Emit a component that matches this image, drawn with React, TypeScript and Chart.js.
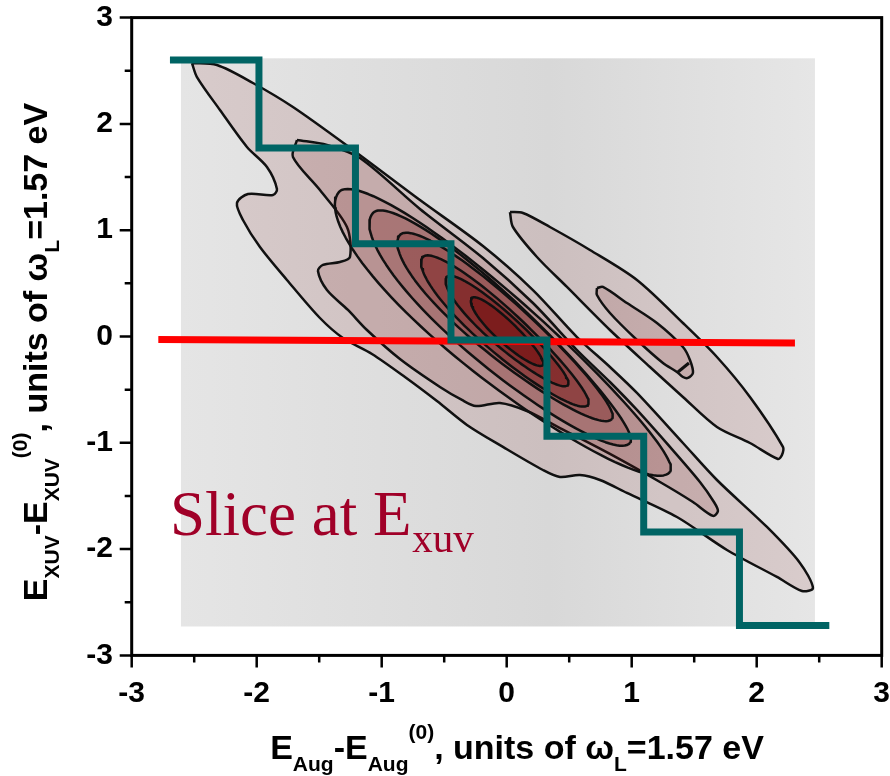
import React, { useEffect, useRef } from 'react';
import { Chart, registerables } from 'chart.js';

Chart.register(...registerables);

// ---------- axes ----------
const X_TICKS = [-3, -2, -1, 0, 1, 2, 3];
const Y_TICKS = [-3, -2, -1, 0, 1, 2, 3];
const X_MINOR = [-2.5, -1.5, -0.5, 0.5, 1.5, 2.5];
const Y_MINOR = [-2.5, -1.5, -0.5, 0.5, 1.5, 2.5];

// ---------- grey map panel (data extents) ----------
const PANEL_X = [-2.606, 2.466];
const PANEL_Y = [-2.728, 2.617];

// ---------- stepped (teal) line ----------
const STEP_X = [-2.694, -1.982, -1.21, -0.446, 0.322, 1.096, 1.862, 2.581];
const STEP_Y = [2.601, 1.773, 0.873, -0.033, -0.939, -1.839, -2.719];

// ---------- slice (red) line ----------
const SLICE_X = [-2.787, 2.306];
const SLICE_Y = [-0.028, -0.061];

// ---------- slice label ----------
const SLICE_TEXT = 'Slice at E';
const SLICE_SUB = 'xuv';
const SLICE_POS = [-2.694, -1.867];

// ---------- main peak: outermost contour ----------
const L1_X = [-2.518, -2.318, -2.03, -1.71, -1.23, -0.694, -0.19, 0.21, 0.562, 0.826, 1.042, 1.41, 1.682, 2.082, 2.346, 2.45,
  2.362, 2.162, 1.762, 1.362, 0.962, 0.746, 0.586, 0.426, 0.29, -0.03, -0.318, -0.558, -0.814, -1.078, -1.31, -1.494,
  -1.758, -1.974, -2.11, -2.158, -2.07, -1.87, -1.838, -1.918, -2.078, -2.294, -2.478];
const L1_Y = [2.573, 2.554, 2.385, 2.159, 1.755, 1.284, 0.851, 0.437, -0.005, -0.287, -0.531, -1.002, -1.35, -1.792, -2.13, -2.366,
  -2.394, -2.262, -2.008, -1.698, -1.472, -1.35, -1.303, -1.322, -1.256, -1.039, -0.832, -0.607, -0.381, -0.164, -0.014, 0.174,
  0.532, 0.842, 1.096, 1.256, 1.341, 1.331, 1.388, 1.595, 1.783, 2.131, 2.441];

// ---------- main peak: second contour ----------
const L2_X = [-1.678, -1.438, -1.174, -0.694, -0.19, 0.21, 0.562, 0.826, 1.042, 1.306, 1.546, 1.658, 1.69, 1.65, 1.49, 1.226,
  0.826, 0.426, 0.162, -0.054, -0.246, -0.358, -0.534, -0.854, -1.118, -1.27, -1.438, -1.51, -1.47, -1.334, -1.254, -1.278,
  -1.494, -1.71];
const L2_Y = [1.849, 1.802, 1.679, 1.2, 0.739, 0.315, -0.127, -0.428, -0.691, -1.039, -1.369, -1.557, -1.641, -1.688, -1.557, -1.369,
  -1.105, -0.861, -0.701, -0.625, -0.654, -0.597, -0.475, -0.212, 0.061, 0.25, 0.437, 0.616, 0.673, 0.701, 0.748, 1.03,
  1.378, 1.689];

// ---------- main peak: inner contours (tips and half widths, x-units) ----------
const CORE_TIP_A_X = [-1.342, -1.07, -0.854, -0.67, -0.478, -0.278];
const CORE_TIP_A_Y = [1.359, 1.162, 0.955, 0.748, 0.56, 0.362];
const CORE_TIP_B_X = [1.306, 0.986, 0.842, 0.65, 0.49, 0.29];
const CORE_TIP_B_Y = [-1.275, -1.002, -0.776, -0.644, -0.456, -0.268];
const CORE_W_UP = [0.27, 0.23, 0.19, 0.15, 0.11, 0.075];
const CORE_W_LOW = [0.4, 0.32, 0.25, 0.19, 0.14, 0.095];
const CORE_SKEW = [0.15, 0.15, 0.15, 0.12, 0.1, 0.08];

// ---------- side peak ----------
const SIDE1_X = [0.026, 0.13, 0.346, 0.666, 1.042, 1.41, 1.682, 1.946, 2.21, 2.202, 2.17, 1.946, 1.682, 1.41, 1.146, 0.826, 0.482, 0.242, 0.05];
const SIDE1_Y = [1.171, 1.162, 1.03, 0.814, 0.532, 0.127, -0.193, -0.569, -1.039, -1.115, -1.152, -1.002, -0.851, -0.569, -0.287, 0.061, 0.466, 0.748, 1.03];
const SIDE2_X = [0.722, 0.77, 0.962, 1.202, 1.41, 1.466, 1.49, 1.45, 1.41, 1.362, 1.25, 1.042, 0.826, 0.722];
const SIDE2_Y = [0.456, 0.466, 0.315, 0.127, -0.099, -0.221, -0.343, -0.39, -0.381, -0.334, -0.249, -0.033, 0.221, 0.39];
const SIDE3_X = [1.37, 1.458];
const SIDE3_Y = [-0.334, -0.249];

// ---------- styles ----------
const LEVEL_ALPHA = [0.12, 0.14, 0.16, 0.22, 0.26, 0.33, 0.44, 0.66];
const FILL_RGB = '120,20,20';
const TEAL = '#006464';
const RED = '#ff0000';
const LABEL_COLOR = 'rgb(160,0,40)';
const SANS = '"Liberation Sans", Arial, Helvetica, sans-serif';
const SERIF = '"Liberation Serif", "Times New Roman", Times, serif';
const ASPECT = 106.3 / 125; // on-screen length of a y unit relative to an x unit

const X_TITLE: [string, string][] = [
  ['E', 'n'], ['Aug', 'sub'], ['-E', 'n'], ['Aug', 'sub'], ['(0)', 'sup'], [', units of ω', 'n'], ['L', 'sub'], ['=1.57 eV', 'n'],
];
const Y_TITLE: [string, string][] = [
  ['E', 'n'], ['XUV', 'sub'], ['-E', 'n'], ['XUV', 'sub'], ['(0)', 'sup'], [', units of ω', 'n'], ['L', 'sub'], ['=1.57 eV', 'n'],
];

function poly(xs: number[], ys: number[]) {
  const pts = xs.map((x, i) => ({ x, y: ys[i] }));
  pts.push({ x: xs[0], y: ys[0] });
  return pts;
}

function lens(i: number) {
  const ax = CORE_TIP_A_X[i], ay = CORE_TIP_A_Y[i], bx = CORE_TIP_B_X[i], by = CORE_TIP_B_Y[i];
  const cx = (ax + bx) / 2, cy = (ay + by) / 2;
  const hx = (bx - ax) / 2, hy = ((by - ay) / 2) * ASPECT;
  const L = Math.hypot(hx, hy);
  const nx = -hy / L, ny = hx / L;
  const pts: { x: number; y: number }[] = [];
  const N = 120;
  for (let k = 0; k <= N; k++) {
    const t = (2 * Math.PI * k) / N;
    const c = Math.cos(t), s = Math.sin(t);
    const w = (s >= 0 ? CORE_W_UP[i] : CORE_W_LOW[i]) * (1 - CORE_SKEW[i] * c);
    const px = c * hx + s * w * nx;
    const py = c * hy + s * w * ny;
    pts.push({ x: cx + px, y: cy + py / ASPECT });
  }
  return pts;
}

function contourSet(data: { x: number; y: number }[], alpha: number, order: number, tension: number) {
  return {
    data,
    showLine: true,
    fill: 'shape',
    backgroundColor: `rgba(${FILL_RGB},${alpha})`,
    borderColor: '#111',
    borderWidth: 2.5,
    borderJoinStyle: 'round',
    pointRadius: 0,
    pointHoverRadius: 0,
    tension,
    order,
  };
}

function drawRich(ctx: CanvasRenderingContext2D, segs: [string, string][], cx: number, base: number) {
  const big = `bold 34px ${SANS}`;
  const small = `bold 21px ${SANS}`;
  let total = 0;
  const widths = segs.map(([t, k]) => {
    ctx.font = k === 'n' ? big : small;
    const w = ctx.measureText(t).width;
    total += w;
    return w;
  });
  let xx = cx - total / 2;
  segs.forEach(([t, k], i) => {
    ctx.font = k === 'n' ? big : small;
    const dy = k === 'sub' ? 12 : k === 'sup' ? -20 : 0;
    ctx.fillText(t, xx, base + dy);
    xx += widths[i];
  });
}

const decor = {
  id: 'decor',
  beforeDatasetsDraw(chart: any) {
    const { ctx, scales } = chart;
    const xs = scales.x, ys = scales.y;
    const x0 = xs.getPixelForValue(PANEL_X[0]);
    const x1 = xs.getPixelForValue(PANEL_X[1]);
    const y0 = ys.getPixelForValue(PANEL_Y[1]);
    const y1 = ys.getPixelForValue(PANEL_Y[0]);
    ctx.save();
    const g = ctx.createLinearGradient(x0, 0, x1, 0);
    g.addColorStop(0, 'rgb(229,229,229)');
    g.addColorStop(0.58, 'rgb(216,216,216)');
    g.addColorStop(1, 'rgb(230,230,230)');
    ctx.fillStyle = g;
    ctx.fillRect(x0, y0, x1 - x0, y1 - y0);
    ctx.restore();
  },
  afterDatasetsDraw(chart: any) {
    const { ctx, scales } = chart;
    const px = scales.x.getPixelForValue(SLICE_POS[0]);
    const py = scales.y.getPixelForValue(SLICE_POS[1]);
    ctx.save();
    ctx.fillStyle = LABEL_COLOR;
    ctx.textAlign = 'left';
    ctx.textBaseline = 'alphabetic';
    ctx.font = `63px ${SERIF}`;
    ctx.fillText(SLICE_TEXT, px, py);
    const w = ctx.measureText(SLICE_TEXT).width;
    ctx.font = `41px ${SERIF}`;
    ctx.fillText(SLICE_SUB, px + w + 1, py + 17);
    ctx.restore();
  },
  afterDraw(chart: any) {
    const { ctx, chartArea: a, scales } = chart;
    const xs = scales.x, ys = scales.y;
    ctx.save();
    ctx.strokeStyle = '#000';
    ctx.lineWidth = 3;
    ctx.strokeRect(a.left, a.top, a.right - a.left, a.bottom - a.top);
    ctx.lineWidth = 2.5;
    ctx.beginPath();
    X_TICKS.forEach((v) => { const p = xs.getPixelForValue(v); ctx.moveTo(p, a.bottom); ctx.lineTo(p, a.bottom + 12); });
    X_MINOR.forEach((v) => { const p = xs.getPixelForValue(v); ctx.moveTo(p, a.bottom); ctx.lineTo(p, a.bottom + 7); });
    Y_TICKS.forEach((v) => { const p = ys.getPixelForValue(v); ctx.moveTo(a.left, p); ctx.lineTo(a.left - 12, p); });
    Y_MINOR.forEach((v) => { const p = ys.getPixelForValue(v); ctx.moveTo(a.left, p); ctx.lineTo(a.left - 7, p); });
    ctx.stroke();

    ctx.fillStyle = '#000';
    ctx.textAlign = 'left';
    ctx.textBaseline = 'alphabetic';
    drawRich(ctx, X_TITLE, 517, 759);
    ctx.translate(47, 352);
    ctx.rotate(-Math.PI / 2);
    drawRich(ctx, Y_TITLE, 0, 0);
    ctx.restore();
  },
};

function zeroPad(s: any) {
  s.paddingTop = 0;
  s.paddingBottom = 0;
  s.paddingLeft = 0;
  s.paddingRight = 0;
}

export default function App() {
  const ref = useRef<HTMLCanvasElement>(null);
  useEffect(() => {
    const canvas = ref.current;
    if (!canvas) return;

    const stepPts: { x: number; y: number }[] = [];
    for (let i = 0; i < STEP_Y.length; i++) {
      stepPts.push({ x: STEP_X[i], y: STEP_Y[i] }, { x: STEP_X[i + 1], y: STEP_Y[i] });
    }

    const datasets: any[] = [];
    datasets.push(contourSet(poly(L1_X, L1_Y), LEVEL_ALPHA[0], 90, 0.3));
    datasets.push(contourSet(poly(L2_X, L2_Y), LEVEL_ALPHA[1], 89, 0.3));
    CORE_TIP_A_X.forEach((_, i) => {
      datasets.push(contourSet(lens(i), LEVEL_ALPHA[i + 2], 88 - i, 0));
    });
    datasets.push(contourSet(poly(SIDE1_X, SIDE1_Y), LEVEL_ALPHA[0], 70, 0.3));
    datasets.push(contourSet(poly(SIDE2_X, SIDE2_Y), LEVEL_ALPHA[1], 69, 0.3));
    datasets.push({
      data: SIDE3_X.map((x, i) => ({ x, y: SIDE3_Y[i] })),
      showLine: true, fill: false, borderColor: '#111', borderWidth: 3, pointRadius: 0, order: 68,
    });
    datasets.push({
      data: SLICE_X.map((x, i) => ({ x, y: SLICE_Y[i] })),
      showLine: true, fill: false, borderColor: RED, borderWidth: 7, borderCapStyle: 'butt', pointRadius: 0, order: 3,
    });
    datasets.push({
      data: stepPts,
      showLine: true, fill: false, borderColor: TEAL, borderWidth: 7, borderCapStyle: 'butt', borderJoinStyle: 'miter',
      pointRadius: 0, order: 2,
    });

    const tickFont = { family: SANS, size: 30, weight: 'bold' as const };
    const chart = new Chart(canvas, {
      type: 'scatter',
      data: { datasets },
      options: {
        responsive: false,
        animation: false,
        devicePixelRatio: 1,
        events: [],
        layout: { padding: { left: 0, top: 17.6, right: 8.3, bottom: 0 }, autoPadding: false },
        plugins: { legend: { display: false }, tooltip: { enabled: false }, title: { display: false } },
        scales: {
          x: {
            type: 'linear', position: 'bottom', min: -3, max: 3,
            afterBuildTicks: (s: any) => { s.ticks = X_TICKS.map((value) => ({ value })); },
            afterFit: (s: any) => { s.height = 120.6; zeroPad(s); },
            grid: { display: false, drawTicks: false },
            border: { display: false },
            ticks: { font: tickFont, color: '#000', padding: 20, maxRotation: 0, autoSkip: false, callback: (v: any) => String(v) },
          },
          y: {
            type: 'linear', position: 'left', min: -3, max: 3,
            afterBuildTicks: (s: any) => { s.ticks = Y_TICKS.map((value) => ({ value })); },
            afterFit: (s: any) => { s.width = 131.7; zeroPad(s); },
            grid: { display: false, drawTicks: false },
            border: { display: false },
            ticks: { font: tickFont, color: '#000', padding: 18.7, autoSkip: false, callback: (v: any) => String(v) },
          },
        },
      } as any,
      plugins: [decor],
    });
    return () => chart.destroy();
  }, []);

  return (
    <div style={{ position: 'absolute', left: 0, top: 0, width: 890, height: 776, background: '#fff' }}>
      <canvas ref={ref} width={890} height={776} style={{ display: 'block' }} />
    </div>
  );
}
